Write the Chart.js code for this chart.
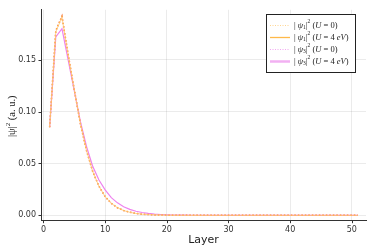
<!DOCTYPE html>
<html><head><meta charset="utf-8">
<script src="https://cdn.jsdelivr.net/npm/chart.js@4/dist/chart.umd.min.js"></script>
<style>html,body{margin:0;padding:0;background:#fff}#w{width:374px;height:249px;position:relative}</style>
</head><body><div id="w"><canvas id="c"></canvas></div>
<script>
const layers = Array.from({length: 51}, (_, i) => i + 1);
const psi1U0 = [0.085,0.178,0.192,0.155,0.121,0.088,0.062,0.042,0.028,0.018,0.0115,0.0073,0.0046,0.0029,0.0018,0.0011,0.0007,0.0004,0.00025,0.00015,0.0001,0.00006,0.00004,0.00002,0.00001,0,0,0,0,0,0,0,0,0,0,0,0,0,0,0,0,0,0,0,0,0,0,0,0,0,0];
const psi1U4 = [0.085,0.177,0.191,0.155,0.121,0.088,0.062,0.042,0.028,0.018,0.0115,0.0073,0.0046,0.0029,0.0018,0.0011,0.0007,0.0004,0.00025,0.00015,0.0001,0.00006,0.00004,0.00002,0.00001,0,0,0,0,0,0,0,0,0,0,0,0,0,0,0,0,0,0,0,0,0,0,0,0,0,0];
const psi3U0 = [0.085,0.178,0.192,0.155,0.121,0.088,0.062,0.042,0.028,0.018,0.0115,0.0073,0.0046,0.0029,0.0018,0.0011,0.0007,0.0004,0.00025,0.00015,0.0001,0.00006,0.00004,0.00002,0.00001,0,0,0,0,0,0,0,0,0,0,0,0,0,0,0,0,0,0,0,0,0,0,0,0,0,0];
const psi3U4 = [0.085,0.172,0.180,0.150,0.120,0.090,0.066,0.047,0.034,0.0245,0.017,0.012,0.0083,0.0057,0.0039,0.0027,0.0018,0.0012,0.0008,0.0005,0.0003,0.0002,0.00012,0.00007,0.00004,0.00002,0.00001,0,0,0,0,0,0,0,0,0,0,0,0,0,0,0,0,0,0,0,0,0,0,0,0,0];
const xTicks = [0,10,20,30,40,50];
const yTicks = [0,0.05,0.10,0.15];
const yTickLabels = ["0.00","0.05","0.10","0.15"];
const seriesNames = [["1","U = 0"],["1","U = 4 eV"],["3","U = 0"],["3","U = 4 eV"]];

const ORANGE = '#FFA726', VIOLET = '#EE82EE';
const mk = (d, color, dash, w) => ({data: d.map((v,i)=>({x:layers[i], y:v})), borderColor: color, borderWidth: w, borderDash: dash, pointRadius: 0, fill: false, tension: 0});
const datasets = [
  mk(psi1U4, '#FFC870', [], 0.8),
  mk(psi1U0, ORANGE, [1.5,2], 1.5),
  mk(psi3U0, VIOLET, [1.5,2], 1.5),
  mk(psi3U4, VIOLET, [], 1.2)
];
const legendStyle = [
  {color: '#FFD590', dash: [1,1.5], w: 1.2},
  {color: '#FFB94A', dash: [], w: 1.3},
  {color: '#F2A8F2', dash: [1,1.5], w: 1.2},
  {color: '#F2B0F2', dash: [], w: 2.5}
];

const SER = '"Liberation Serif"';
const extras = {
  id: 'extras',
  afterDraw(chart) {
    const ctx = chart.ctx, a = chart.chartArea;
    ctx.save();
    ctx.strokeStyle = '#333'; ctx.lineWidth = 1;
    const xs = chart.scales.x, ys = chart.scales.y;
    xTicks.forEach(t => { const px = Math.round(xs.getPixelForValue(t)) + 0.5; ctx.beginPath(); ctx.moveTo(px, a.bottom); ctx.lineTo(px, a.bottom + 2.5); ctx.stroke(); });
    yTicks.forEach(t => { const py = Math.round(ys.getPixelForValue(t)) + 0.5; ctx.beginPath(); ctx.moveTo(a.left, py); ctx.lineTo(a.left - 2.5, py); ctx.stroke(); });
    ctx.fillStyle = '#222';
    ctx.font = '11px "DejaVu Sans"';
    ctx.textAlign = 'center'; ctx.textBaseline = 'middle';
    ctx.fillText('Layer', (a.left + a.right) / 2, 240);
    ctx.translate(12, (a.top + a.bottom) / 2 + 1);
    ctx.rotate(-Math.PI / 2);
    ctx.textAlign = 'left';
    const parts = [['|ψ|', '10.5px ' + SER, 0], ['2', '7px ' + SER, -4], [' (a. u.)', '10.5px ' + SER, 0]];
    let tw = 0; parts.forEach(p => { ctx.font = p[1]; tw += ctx.measureText(p[0]).width; });
    let x0 = -tw / 2;
    parts.forEach(p => { ctx.font = p[1]; ctx.fillText(p[0], x0, p[2]); x0 += ctx.measureText(p[0]).width; });
    ctx.restore();

    ctx.save();
    const lx = 266.5, ly = 14.5, lw = 89, lh = 58;
    ctx.fillStyle = '#fff'; ctx.fillRect(lx, ly, lw, lh);
    ctx.strokeStyle = '#222'; ctx.lineWidth = 1; ctx.strokeRect(lx, ly, lw, lh);
    legendStyle.forEach((st, i) => {
      const yy = 25.5 + i * 12;
      ctx.strokeStyle = st.color; ctx.lineWidth = st.w;
      ctx.setLineDash(st.dash);
      ctx.beginPath(); ctx.moveTo(270, yy); ctx.lineTo(290, yy); ctx.stroke();
      ctx.setLineDash([]);
      ctx.fillStyle = '#222'; ctx.textBaseline = 'middle'; ctx.textAlign = 'left';
      let x = 294;
      const seg = (t, f, dy) => { ctx.font = f; ctx.fillText(t, x, yy + dy); x += ctx.measureText(t).width; };
      seg('| ', '8.5px ' + SER, 0);
      seg('ψ', 'italic 8.5px ' + SER, 0);
      seg(seriesNames[i][0], '5.5px ' + SER, 2);
      seg('|', '8.5px ' + SER, 0);
      seg('2', '5.5px ' + SER, -3.5);
      seg(' (', '8.5px ' + SER, 0);
      const m = seriesNames[i][1].match(/^U(.*?)(eV)?$/);
      seg('U', 'italic 8.5px ' + SER, 0);
      seg(m[1], '8.5px ' + SER, 0);
      if (m[2]) seg('eV', 'italic 8.5px ' + SER, 0);
      seg(')', '8.5px ' + SER, 0);
    });
    ctx.restore();
  }
};

new Chart(document.getElementById('c'), {
  type: 'line',
  data: { datasets },
  options: {
    responsive: true, maintainAspectRatio: false, animation: false,
    layout: { padding: { left: 0, top: 7, right: 8, bottom: 0 } },
    plugins: { legend: { display: false }, tooltip: { enabled: false } },
    scales: {
      x: {
        type: 'linear', min: -0.4, max: 52.3,
        afterBuildTicks: s => { s.ticks = xTicks.map(v => ({value: v})); },
        afterFit: s => { s.height = 28.3; },
        grid: { color: 'rgba(0,0,0,0.08)', drawTicks: false },
        border: { color: '#333', width: 1 },
        ticks: { padding: 4, color: '#333', font: { size: 8, family: 'DejaVu Sans' }, maxRotation: 0, callback: v => String(v) }
      },
      y: {
        type: 'linear', min: -0.0052, max: 0.1982,
        afterBuildTicks: s => { s.ticks = yTicks.map(v => ({value: v})); },
        afterFit: s => { s.width = 41; },
        grid: { color: 'rgba(0,0,0,0.08)', drawTicks: false },
        border: { color: '#333', width: 1 },
        ticks: { padding: 5, color: '#333', font: { size: 8, family: 'DejaVu Sans' }, callback: (v) => { const i = yTicks.findIndex(t => Math.abs(t - v) < 1e-9); return i >= 0 ? yTickLabels[i] : ''; } }
      }
    }
  },
  plugins: [extras]
});
</script></body></html>
